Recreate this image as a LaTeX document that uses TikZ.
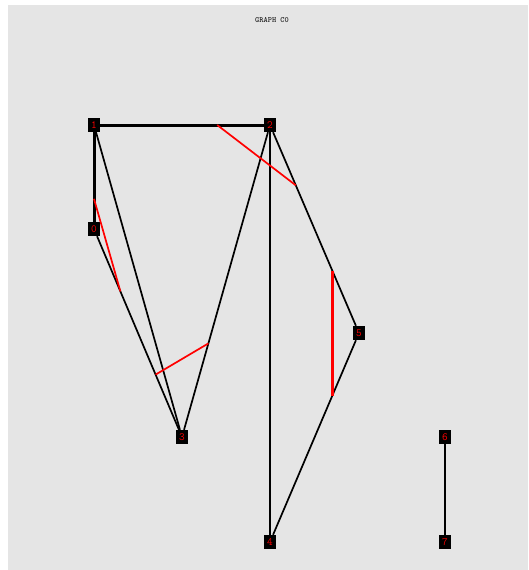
\documentclass[tikz,border=0pt]{standalone}
\usetikzlibrary{calc}
\definecolor{bg}{HTML}{E5E5E5}
\definecolor{ink}{HTML}{000000}
\definecolor{mark}{HTML}{FF0000}
\definecolor{caption}{HTML}{202020}

\begin{document}
\begin{tikzpicture}[
  x=1pt,y=-1pt,
  vertex/.style={fill=ink,text=mark,minimum width=12pt,minimum height=14pt,
    inner sep=0pt,font=\ttfamily\fontsize{11}{11}\selectfont},
  edge/.style={draw=ink,line width=1.7pt},
  heavy/.style={draw=ink,line width=3pt},
  cut/.style={draw=mark,line width=1.7pt},
  bigcut/.style={draw=mark,line width=3.6pt}
]
  \useasboundingbox (0,0) rectangle (528,570);
  \fill[white] (0,0) rectangle (528,570);
  \fill[bg] (8,5) rectangle (528,570);
  \node[text=caption,font=\ttfamily\bfseries\fontsize{8}{8}\selectfont] (title) at (272,20) {GRAPH C0};

  % vertices
  \node[vertex] (n1) at (94,125) {1};
  \node[vertex] (n2) at (270,125) {2};
  \node[vertex] (n0) at (94,229) {0};
  \node[vertex] (n3) at (182,437) {3};
  \node[vertex] (n5) at (359,333) {5};
  \node[vertex] (n4) at (270,542) {4};
  \node[vertex] (n6) at (445,437) {6};
  \node[vertex] (n7) at (445,542) {7};

  % edges
  \draw[heavy] (n1) -- (n2);
  \draw[heavy] (n1) -- (n0);
  \foreach \a/\b in {n1/n3,n0/n3,n2/n3,n2/n4,n2/n5,n5/n4,n6/n7}
    \draw[edge] (\a) -- (\b);

  % cuts
  \coordinate (ca) at ($(n1.center)!.70!(n2.center)$);
  \coordinate (cb) at ($(n2.center)!.29!(n5.center)$);
  \coordinate (cc) at ($(n1.center)!.71!(n0.center)$);
  \coordinate (cd) at ($(n0.center)!.30!(n3.center)$);
  \coordinate (ce) at ($(n0.center)!.70!(n3.center)$);
  \coordinate (cf) at ($(n2.center)!.70!(n3.center)$);
  \coordinate (cg) at ($(n2.center)!.70!(n5.center)$);
  \coordinate (ch) at ($(n5.center)!.30!(n4.center)$);
  \draw[cut] (ca) -- (cb);
  \draw[cut] (cc) -- (cd);
  \draw[cut] (ce) -- (cf);
  \draw[bigcut] (cg) -- (cg|-ch);
\end{tikzpicture}
\end{document}
